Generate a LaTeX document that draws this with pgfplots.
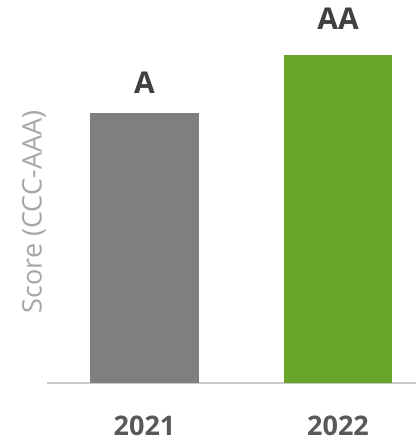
\documentclass[border=0pt]{standalone}
\usepackage{pgfplots}
\pgfplotsset{compat=1.18}
\usepackage{fontspec}
\setmainfont{Open Sans}
\definecolor{bargray}{HTML}{7F7F7F}
\definecolor{bargreen}{HTML}{68A428}
\definecolor{baseline}{HTML}{C8C8C8}
\definecolor{lblgray}{HTML}{A6A6A6}
\definecolor{tickgray}{HTML}{595959}
\definecolor{valgray}{HTML}{404040}
\begin{document}
\begin{tikzpicture}
\path[use as bounding box] (0,0) rectangle (416pt,441pt);
\begin{axis}[
  at={(47pt,58pt)}, anchor=south west,
  scale only axis, width=369pt, height=383pt,
  xmin=-0.504, xmax=1.403, ymin=0.34, ymax=6.95,
  axis x line*=bottom, axis y line=none,
  x axis line style={draw=baseline, line width=2pt, -},
  xtick={0,1}, xticklabels={2021,2022},
  major tick length=0pt,
  xticklabel style={font=\fontsize{27}{29}\selectfont\bfseries, text=tickgray, inner sep=0pt, yshift=-33pt},
  ytick=\empty,
  bar width=0.563,
  nodes near coords,
  point meta=explicit symbolic,
  every node near coord/.append style={font=\fontsize{30}{32}\selectfont\bfseries, text=valgray, yshift=16pt},
  clip=false,
]
\addplot[ybar, bar shift=0, fill=bargray, draw=none] coordinates {(0,5) [A]};
\addplot[ybar, bar shift=0, fill=bargreen, draw=none, every node near coord/.append style={yshift=6pt}] coordinates {(1,6) [AA]};
\end{axis}
\node[rotate=90, text=lblgray, font=\fontsize{27}{29}\selectfont] at (34pt,229pt) {Score (CCC-AAA)};
\end{tikzpicture}
\end{document}
